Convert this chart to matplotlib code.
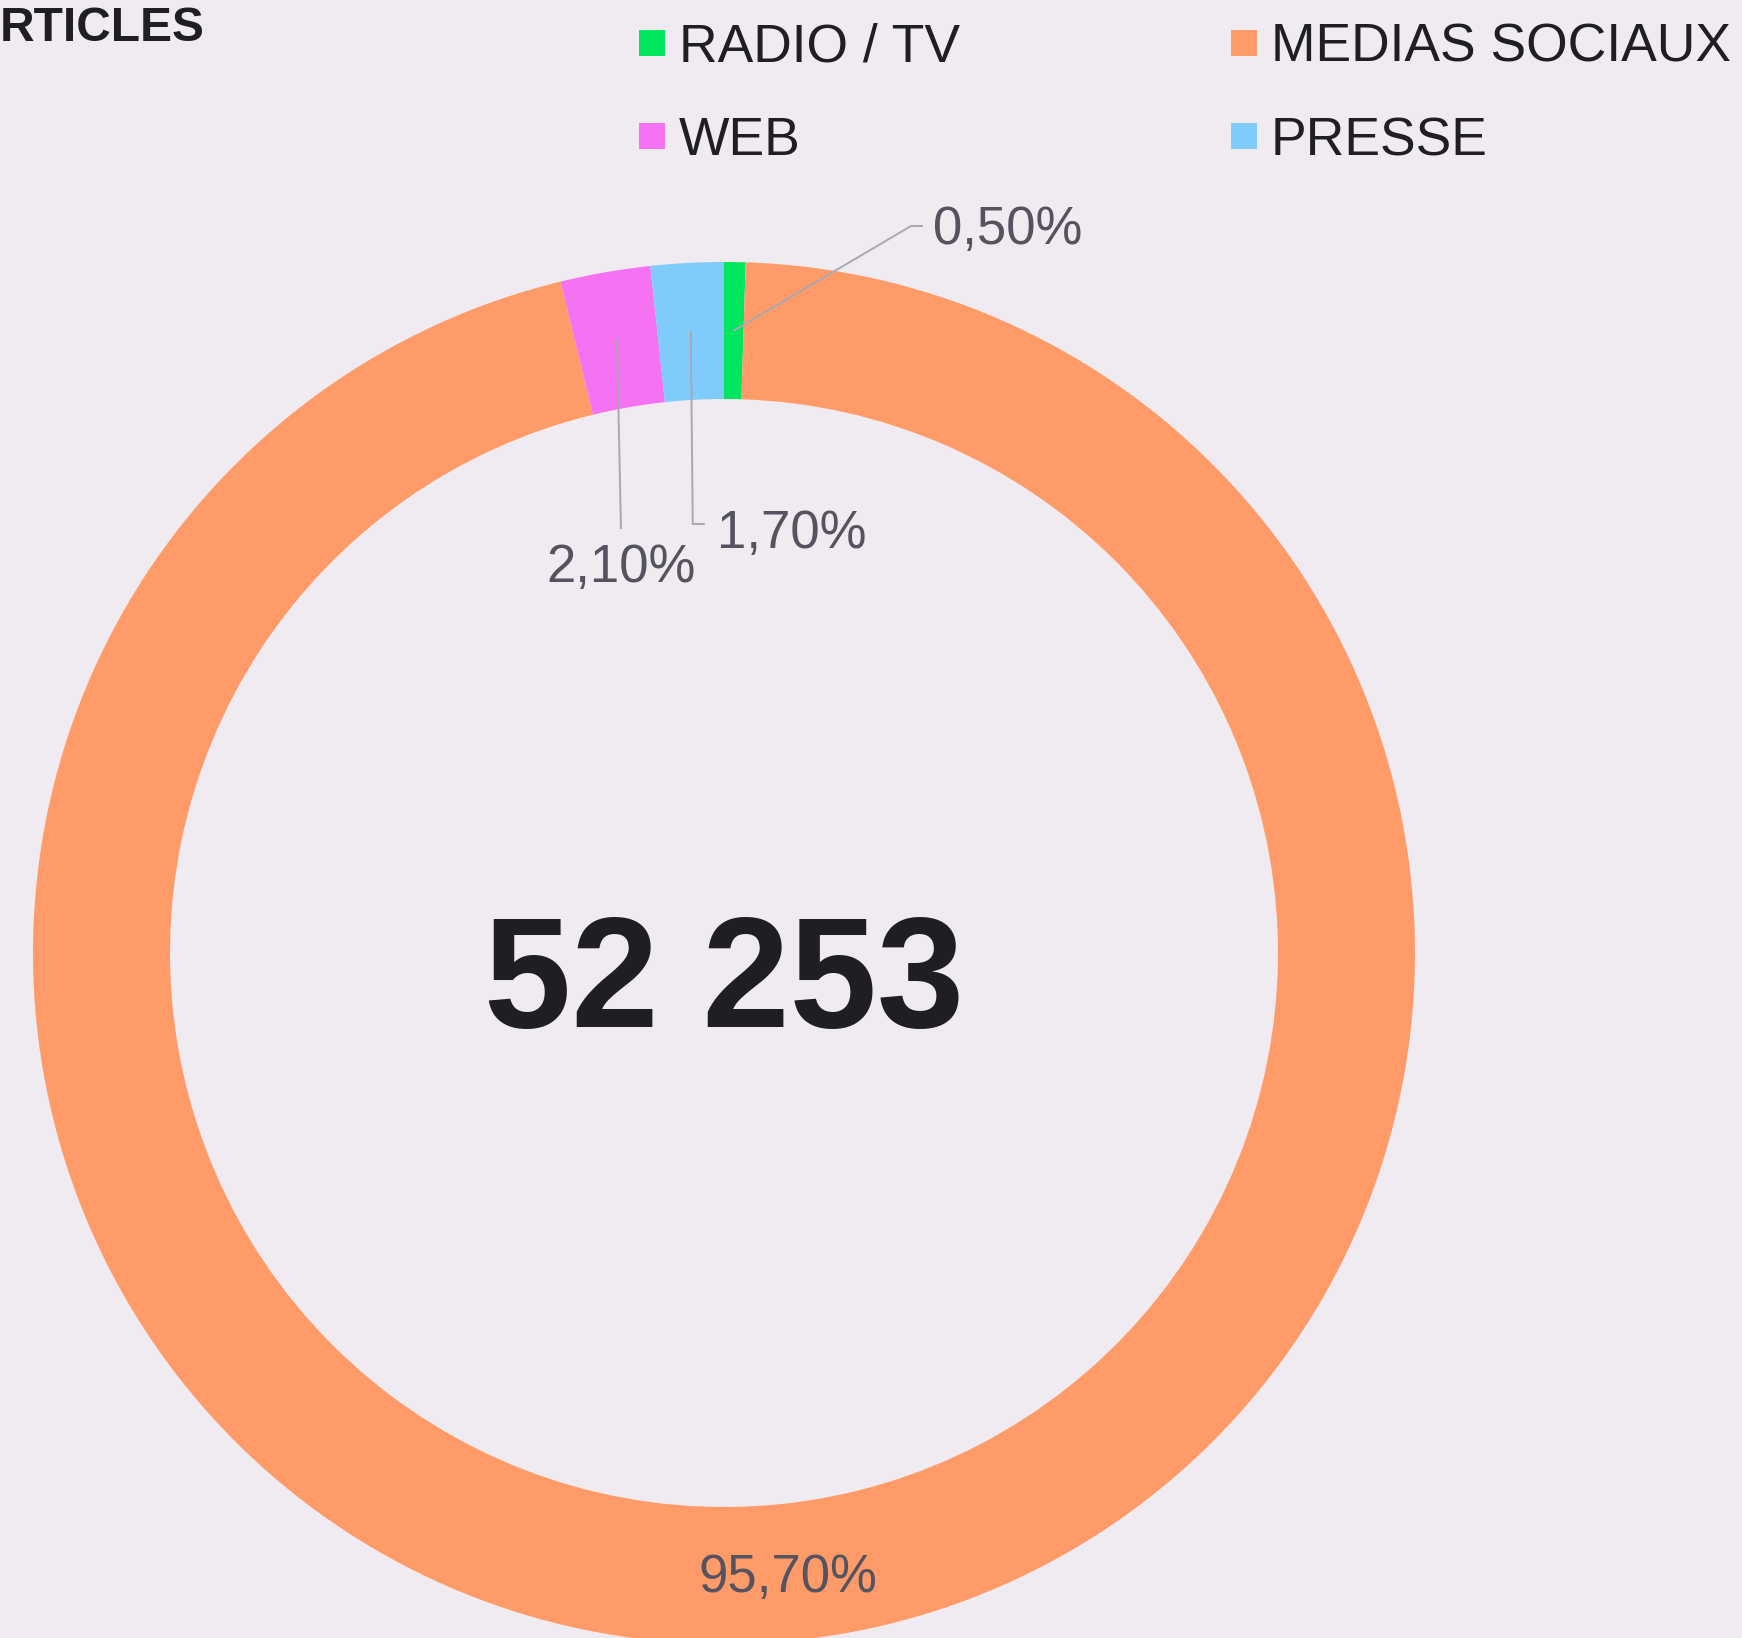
import numpy as np
import matplotlib
matplotlib.use("Agg")
import matplotlib.pyplot as plt
from matplotlib.patches import Rectangle

# ---- data ----
categories = ["RADIO / TV", "MEDIAS SOCIAUX", "WEB", "PRESSE"]
values = [0.5, 95.7, 2.1, 1.7]
value_labels = ["0,50%", "95,70%", "2,10%", "1,70%"]
colors = ["#00E65E", "#FF9B69", "#F572F2", "#7FCCFC"]
total_text = "52 253"
title_text = "RTICLES"

BG = "#F0EBF0"
DARK = "#1F1E23"
LABEL = "#55535F"
LEADER = "#A9A8B0"

W, H = 1742, 1638
fig = plt.figure(figsize=(W / 100, H / 100), dpi=100, facecolor=BG)
ax = fig.add_axes([0, 0, 1, 1])
ax.set_facecolor(BG)
plt.rcParams["font.family"] = ["Liberation Sans", "DejaVu Sans"]

def Y(ypx):
    return H - ypx

cx, cy = 724, Y(953)
R_out, R_in = 691, 554

ax.pie(values, colors=colors, startangle=90, counterclock=False,
       center=(cx, cy), radius=R_out,
       wedgeprops=dict(width=R_out - R_in, edgecolor="none", linewidth=0))
ax.set_xlim(0, W)
ax.set_ylim(0, H)
ax.set_aspect("equal")
ax.axis("off")

# mid angles (clockwise from top, degrees)
cum = np.cumsum([0] + values[:-1])
mids = (cum + np.array(values) / 2) / sum(values) * 360
r_mid = (R_out + R_in) / 2
pts = [(cx + r_mid * np.sin(np.radians(a)), cy + r_mid * np.cos(np.radians(a))) for a in mids]

fs_lab = 38
lw_lead = 1.4
# RADIO / TV label
x0, y0 = pts[0]
ax.plot([x0, 911, 922], [y0, Y(226), Y(226)], color=LEADER, lw=lw_lead)
ax.text(933, Y(244), value_labels[0], fontsize=fs_lab, color=LABEL, ha="left", va="baseline")
# PRESSE label
x3, y3 = pts[3]
ax.plot([x3, x3 + 2, x3 + 13], [y3, Y(524), Y(524)], color=LEADER, lw=lw_lead)
ax.text(717, Y(548), value_labels[3], fontsize=fs_lab, color=LABEL, ha="left", va="baseline")
# WEB label
x2, y2 = pts[2]
ax.plot([x2, x2 + 4], [y2, Y(528)], color=LEADER, lw=lw_lead)
ax.text(x2 + 4, Y(582), value_labels[2], fontsize=fs_lab, color=LABEL, ha="center", va="baseline")
# MEDIAS SOCIAUX label (inside ring)
x1, y1 = pts[1]
ax.text(x1, Y(1592), value_labels[1], fontsize=fs_lab, color=LABEL, ha="center", va="baseline")

# center total
ax.text(cx, Y(1027), total_text, fontsize=113, fontweight="bold", color=DARK,
        ha="center", va="baseline")

# title (clipped)
ax.text(0, Y(41), title_text, fontsize=34.5, fontweight="bold", color=DARK,
        ha="left", va="baseline")

# legend
leg_pos = [(639, 30), (1231, 30), (639, 123), (1231, 123)]
for (mx, my), c, name in zip(leg_pos, colors, categories):
    ax.add_patch(Rectangle((mx, Y(my + 26)), 26, 26, facecolor=c, edgecolor="none"))
    ax.text(mx + 40, Y(my + 32), name, fontsize=38.5, color=DARK, ha="left", va="baseline")

fig.savefig("out.png", dpi=100, facecolor=BG)
